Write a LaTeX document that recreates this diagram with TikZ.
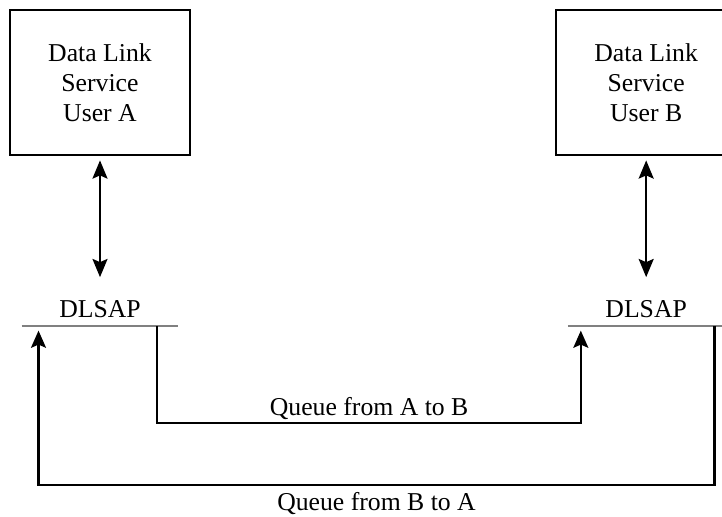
\documentclass[tikz,border=0pt]{standalone}
\usepackage{fontspec}
\setmainfont{Liberation Serif}
\usetikzlibrary{arrows.meta, positioning}

\begin{document}
\begin{tikzpicture}[
    x=0.4667pt, y=-0.4667pt,
    every node/.style={font=\fontsize{12}{14}\selectfont},
    ubox/.style={rectangle, draw, line width=1pt, minimum width=84pt,
                 minimum height=67.7pt, align=center},
    sap/.style={rectangle, minimum width=72.8pt, inner xsep=0pt, inner ysep=4pt},
    sapline/.style={draw=gray, line width=0.9pt},
    arr/.style={-{Stealth[length=8pt, width=7pt, inset=1.5pt]}, line width=1pt},
    dblarr/.style={{Stealth[length=8.5pt, width=7pt, inset=1.5pt]}-{Stealth[length=8.5pt, width=7pt, inset=1.5pt]},
                   line width=1pt, shorten <=2pt, shorten >=6.5pt},
    lbl/.style={inner sep=3pt, text depth=0pt}
  ]
    \path[use as bounding box, clip] (0,0) rectangle (722,516);

    \node[ubox] (userA) at (100,82.5) {Data Link\\Service\\User A};
    \node[ubox, right=169.9pt of userA] (userB) {Data Link\\Service\\User B};
    \node[sap, below=63pt of userA] (sapA) {DLSAP};
    \node[sap, below=63pt of userB] (sapB) {DLSAP};

    \draw[sapline] (sapA.south west) -- (sapA.south east);
    \draw[sapline] (sapB.south west) -- (sapB.south east);

    \draw[dblarr] (userA) -- (sapA);
    \draw[dblarr] (userB) -- (sapB);

    \draw[arr] ([xshift=-9.8pt]sapA.south east) -- ++(0,97)
      -| node[pos=0.25, above, lbl] {Queue from A to B}
      ([xshift=6.1pt, yshift=-2pt]sapB.south west);
    \draw[arr] ([xshift=-4.7pt]sapB.south east) -- ++(0,159)
      -| node[pos=0.25, below, lbl] {Queue from B to A}
      ([xshift=7.9pt, yshift=-2pt]sapA.south west);
  \end{tikzpicture}
\end{document}
